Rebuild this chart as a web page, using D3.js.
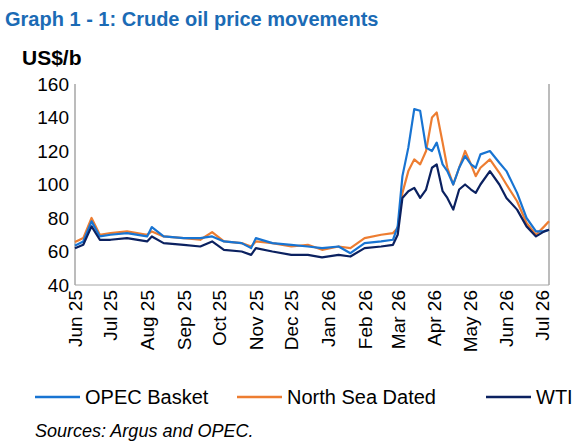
<!DOCTYPE html><html><head><meta charset="utf-8"><script src="https://cdn.jsdelivr.net/npm/d3@7"></script>
<style>body{margin:0;background:#fff}text{font-family:"Liberation Sans",Arial,sans-serif}</style></head><body><svg id="c" width="586" height="445"></svg><script>
const dates=["2025-06-01","2025-06-08","2025-06-15","2025-06-22","2025-07-01","2025-07-15","2025-08-01","2025-08-05","2025-08-15","2025-09-01","2025-09-15","2025-09-25","2025-10-05","2025-10-20","2025-10-28","2025-11-01","2025-11-15","2025-12-01","2025-12-15","2025-12-27","2026-01-10","2026-01-20","2026-02-01","2026-02-15","2026-02-25","2026-03-01","2026-03-05","2026-03-10","2026-03-15","2026-03-20","2026-03-25","2026-03-30","2026-04-03","2026-04-08","2026-04-12","2026-04-17","2026-04-22","2026-04-27","2026-05-02","2026-05-06","2026-05-10","2026-05-18","2026-05-26","2026-06-01","2026-06-10","2026-06-18","2026-06-26","2026-07-03","2026-07-07"];
const opec=[63.5,66,78,69,70,71,69,74.6,69,68,68,69,66,65,62,68,65,64,63,62,63,59,65,66,67,75,105,122,145,144,122,120,125,112,108,100,110,117,112,110,118,120,113,108,95,80,72,72,73];
const brent=[65.7,68,80,70,71,72,70,72,69,68,67,71.6,66,65,63,66,65,63,64,61,63,62,68,70,71,74,95,108,115,112,120,140,143,125,110,100,110,120,112,105,110,115,107,100,90,77,70,75,78];
const wti=[62,64,75,67,67,68,66,69,65,64,63,66,61,60,58,62,60,58,58,56.5,58,57,62,63,64,70,92,96,98,92,97,110,112,96,92,85,97,100,97,95,100,108,100,92,85,75,69,72,73];
const yTicks=[40,60,80,100,120,140,160];
const months=d3.timeMonths(new Date(2025,5,1),new Date(2026,6,2));
const series=[{name:"OPEC Basket",v:opec,c:"#1874d2"},{name:"North Sea Dated",v:brent,c:"#ed7d31"},{name:"WTI",v:wti,c:"#0b2160"}];
const svg=d3.select("#c");
const L=75,R=549,T=84,B=285;
const x=d3.scaleTime().domain([new Date(2025,5,1),new Date(2026,6,7)]).range([L,R]);
const y=d3.scaleLinear().domain([40,160]).range([B,T]);
const pd=dates.map(d=>d3.timeParse("%Y-%m-%d")(d));
svg.append("text").attr("x",5).attr("y",26).attr("fill","#1b6bb5").attr("font-weight","bold").attr("font-size",20).text("Graph 1 - 1: Crude oil price movements");
svg.append("text").attr("x",22).attr("y",65).attr("font-weight","bold").attr("font-size",21).text("US$/b");
svg.append("line").attr("x1",L).attr("x2",L).attr("y1",T).attr("y2",B).attr("stroke","#a6a6a6").attr("stroke-width",1.5);
svg.append("line").attr("x1",R).attr("x2",R).attr("y1",T).attr("y2",B).attr("stroke","#a6a6a6").attr("stroke-width",1.5);
svg.append("line").attr("x1",L).attr("x2",R).attr("y1",B).attr("y2",B).attr("stroke","#a6a6a6").attr("stroke-width",1);
svg.selectAll(".yt").data(yTicks).join("text").attr("x",69).attr("y",d=>y(d)+6.5).attr("text-anchor","end").attr("font-size",19).text(d=>d);
const fmt=d3.timeFormat("%b %y");
svg.selectAll(".xt").data(months).join("text").attr("transform",d=>`translate(${x(d)+7},${B+5}) rotate(-90)`).attr("text-anchor","end").attr("font-size",19).text(d=>fmt(d));
const line=v=>d3.line().x((d,i)=>x(pd[i])).y(d=>y(d))(v);
[series[1],series[0],series[2]].forEach(s=>svg.append("path").attr("d",line(s.v)).attr("fill","none").attr("stroke",s.c).attr("stroke-width",2.2).attr("stroke-linejoin","round"));
const lg=[{s:series[0],x:35},{s:series[1],x:237},{s:series[2],x:486}];
lg.forEach(o=>{svg.append("line").attr("x1",o.x).attr("x2",o.x+45).attr("y1",397).attr("y2",397).attr("stroke",o.s.c).attr("stroke-width",2.5);
svg.append("text").attr("x",o.x+50).attr("y",404).attr("font-size",20).text(o.s.name);});
svg.append("text").attr("x",35).attr("y",437).attr("font-style","italic").attr("font-size",18).text("Sources: Argus and OPEC.");
</script></body></html>
